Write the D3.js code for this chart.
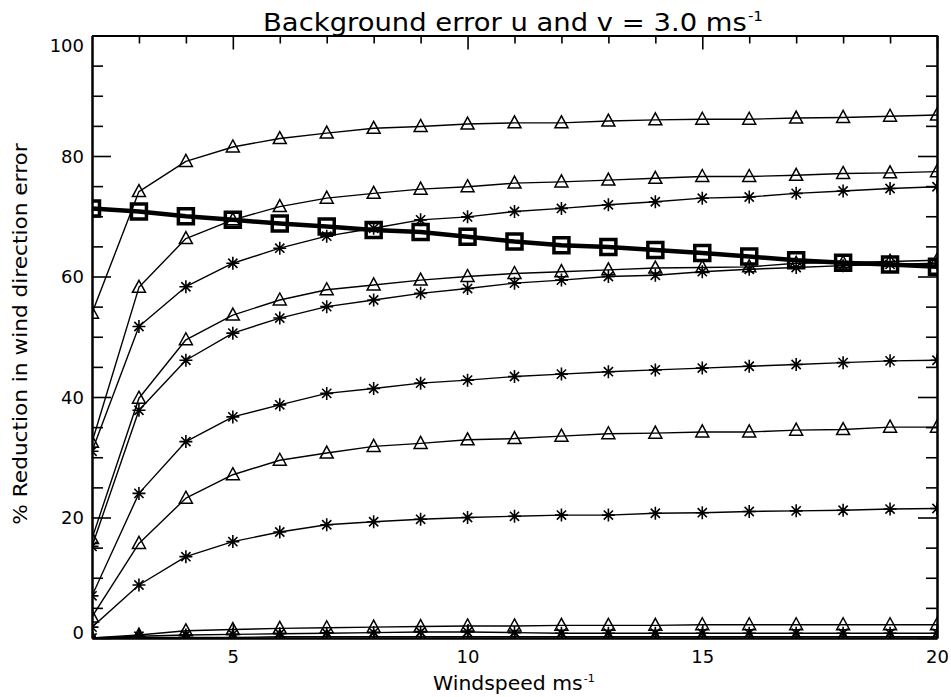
<!DOCTYPE html>
<html>
<head>
<meta charset="utf-8">
<script src="https://cdn.jsdelivr.net/npm/d3@7"></script>
<style>
  body { margin: 0; background: #fff; }
  svg { display: block; background: #fff; }
  text { font-family: "DejaVu Sans", sans-serif; fill: #000; }
</style>
</head>
<body>
<svg id="chart" width="951" height="697"></svg>
<script>
// Wind speed (m/s) at which each curve is evaluated
const windspeed = [2, 3, 4, 5, 6, 7, 8, 9, 10, 11, 12, 13, 14, 15, 16, 17, 18, 19, 20];

// % reduction in wind direction error, one array per curve
const triHigh   = [53.9, 74.1, 79.1, 81.5, 82.9, 83.8, 84.6, 84.9, 85.3, 85.5, 85.5, 85.8, 86.0, 86.1, 86.1, 86.3, 86.4, 86.6, 86.8];
const triUpper  = [32.5, 58.2, 66.3, 69.4, 71.6, 73.0, 73.8, 74.5, 74.9, 75.5, 75.7, 76.0, 76.3, 76.6, 76.6, 76.8, 77.1, 77.2, 77.4];
const astUpper  = [31.0, 51.7, 58.3, 62.2, 64.7, 66.7, 68.0, 69.4, 69.9, 70.8, 71.3, 71.9, 72.4, 73.0, 73.2, 73.8, 74.2, 74.6, 74.9];
const sqBold    = [71.3, 70.8, 70.0, 69.4, 68.8, 68.3, 67.7, 67.4, 66.6, 65.8, 65.2, 64.9, 64.4, 63.9, 63.3, 62.7, 62.3, 62.0, 61.6];
const triMid    = [16.5, 39.8, 49.5, 53.6, 56.1, 57.8, 58.6, 59.4, 60.0, 60.5, 60.8, 61.1, 61.4, 61.5, 61.6, 62.2, 62.3, 62.5, 62.7];
const astMid    = [15.2, 37.8, 46.1, 50.6, 53.1, 55.0, 56.1, 57.2, 58.0, 58.9, 59.4, 60.0, 60.2, 60.8, 61.2, 61.5, 61.8, 62.0, 62.2];
const astLower  = [7.0, 24.0, 32.6, 36.7, 38.7, 40.6, 41.4, 42.3, 42.8, 43.4, 43.8, 44.2, 44.5, 44.8, 45.1, 45.4, 45.7, 46.0, 46.1];
const triLower  = [3.5, 15.7, 23.2, 27.1, 29.5, 30.7, 31.8, 32.3, 32.9, 33.1, 33.5, 33.9, 34.0, 34.2, 34.2, 34.5, 34.6, 35.0, 35.0];
const astLow    = [1.8, 8.8, 13.5, 16.0, 17.6, 18.8, 19.3, 19.7, 20.0, 20.2, 20.4, 20.4, 20.7, 20.8, 21.0, 21.1, 21.2, 21.4, 21.5];
const triFloor  = [0.0, 0.5, 1.2, 1.4, 1.6, 1.7, 1.8, 1.9, 2.0, 2.0, 2.1, 2.1, 2.1, 2.2, 2.2, 2.2, 2.2, 2.2, 2.2];
const astFloor  = [0.0, 0.3, 0.5, 0.6, 0.7, 0.8, 0.9, 1.0, 1.0, 0.9, 0.8, 0.8, 0.8, 0.8, 0.8, 0.8, 0.8, 0.8, 0.8];
const triZero   = [0.0, 0.1, 0.1, 0.1, 0.2, 0.2, 0.2, 0.2, 0.2, 0.2, 0.2, 0.2, 0.2, 0.2, 0.2, 0.2, 0.2, 0.2, 0.2];

// Axis ticks
const xTickMajor = [5, 10, 15, 20];
const xTickMinor = [3, 4, 6, 7, 8, 9, 11, 12, 13, 14, 16, 17, 18, 19];
const yTickMajor = [0, 20, 40, 60, 80, 100];
const yTickMinor = [5, 10, 15, 25, 30, 35, 45, 50, 55, 65, 70, 75, 85, 90, 95];

// Texts
const titleText = "Background error u and v = 3.0 ms";
const xTitleText = "Windspeed ms";
const yTitleText = "% Reduction in wind direction error";
const unitExponent = "-1";

const series = [
  { values: triZero,  marker: "triangle" },
  { values: astFloor, marker: "asterisk" },
  { values: triFloor, marker: "triangle" },
  { values: astLow,   marker: "asterisk" },
  { values: triLower, marker: "triangle" },
  { values: astLower, marker: "asterisk" },
  { values: astMid,   marker: "asterisk" },
  { values: triMid,   marker: "triangle" },
  { values: astUpper, marker: "asterisk" },
  { values: triUpper, marker: "triangle" },
  { values: triHigh,  marker: "triangle" },
  { values: sqBold,   marker: "square", bold: true }
];

const svg = d3.select("#chart");
const plot = { left: 92, right: 937, top: 35.5, bottom: 638 };

const x = d3.scaleLinear().domain([2, 20]).range([plot.left, plot.right]);
const y = d3.scaleLinear().domain([0, 100]).range([plot.bottom, plot.top]);

svg.append("defs").append("clipPath").attr("id", "plotClip")
  .append("rect")
  .attr("x", plot.left).attr("y", plot.top)
  .attr("width", plot.right - plot.left).attr("height", plot.bottom - plot.top);

// ---- curves ----
const line = d3.line()
  .x((d, i) => x(windspeed[i]))
  .y(d => y(d));

const markerPaths = {
  triangle: "M0,-7L6.5,5L-6.5,5Z",
  asterisk: "M-6.5,0H6.5M0,-6.5V6.5M-4.6,-4.6L4.6,4.6M-4.6,4.6L4.6,-4.6",
  square: "M-7.5,-7.5H7.5V7.5H-7.5Z"
};

const dataLayer = svg.append("g").attr("clip-path", "url(#plotClip)");

series.forEach(s => {
  dataLayer.append("path")
    .datum(s.values)
    .attr("d", line)
    .attr("fill", "none")
    .attr("stroke", "#000")
    .attr("stroke-width", s.bold ? 4.5 : 1.4)
    .attr("stroke-linejoin", "round");
});

series.forEach(s => {
  dataLayer.append("g")
    .selectAll("path")
    .data(s.values)
    .join("path")
    .attr("transform", (d, i) => `translate(${x(windspeed[i])},${y(d)})`)
    .attr("d", markerPaths[s.marker])
    .attr("fill", "none")
    .attr("stroke", "#000")
    .attr("stroke-width", s.bold ? 3.5 : (s.marker === "asterisk" ? 1.6 : 1.5));
});

// ---- axes (ticks point inward on all four sides) ----
function styleAxis(g) {
  g.select(".domain").attr("stroke", "#000").attr("stroke-width", 2);
  g.selectAll(".tick line").attr("stroke", "#000").attr("stroke-width", 1.6);
  g.selectAll(".tick text")
    .style("font-family", '"DejaVu Sans", sans-serif')
    .style("font-size", "18px")
    .attr("fill", "#000");
}

// bottom
svg.append("g").attr("transform", `translate(0,${plot.bottom})`)
  .call(d3.axisBottom(x).tickValues(xTickMinor).tickSizeInner(-8).tickSizeOuter(0).tickFormat(""))
  .call(styleAxis);
svg.append("g").attr("transform", `translate(0,${plot.bottom})`)
  .call(d3.axisBottom(x).tickValues(xTickMajor).tickSizeInner(-14).tickSizeOuter(0).tickPadding(12).tickFormat(d3.format("d")))
  .call(styleAxis);

// top
svg.append("g").attr("transform", `translate(0,${plot.top})`)
  .call(d3.axisTop(x).tickValues(xTickMinor).tickSizeInner(-8).tickSizeOuter(0).tickFormat(""))
  .call(styleAxis);
svg.append("g").attr("transform", `translate(0,${plot.top})`)
  .call(d3.axisTop(x).tickValues(xTickMajor).tickSizeInner(-14).tickSizeOuter(0).tickFormat(""))
  .call(styleAxis);

// left
svg.append("g").attr("transform", `translate(${plot.left},0)`)
  .call(d3.axisLeft(y).tickValues(yTickMinor).tickSizeInner(-11).tickSizeOuter(0).tickFormat(""))
  .call(styleAxis);
const leftMajor = svg.append("g").attr("transform", `translate(${plot.left},0)`)
  .call(d3.axisLeft(y).tickValues(yTickMajor).tickSizeInner(-19).tickSizeOuter(0).tickPadding(8).tickFormat(d3.format("d")))
  .call(styleAxis);
// keep the end labels inside the axis span
leftMajor.selectAll(".tick text")
  .attr("dy", d => d === 100 ? "0.88em" : d === 0 ? "0.05em" : "0.36em");

// right
svg.append("g").attr("transform", `translate(${plot.right},0)`)
  .call(d3.axisRight(y).tickValues(yTickMinor).tickSizeInner(-11).tickSizeOuter(0).tickFormat(""))
  .call(styleAxis);
svg.append("g").attr("transform", `translate(${plot.right},0)`)
  .call(d3.axisRight(y).tickValues(yTickMajor).tickSizeInner(-19).tickSizeOuter(0).tickFormat(""))
  .call(styleAxis);

// ---- titles ----
// Builds a text with a unit exponent, then stretches it horizontally to the wanted width.
function stretchedLabel(parent, text, sup, size, width, transform) {
  const g = parent.append("g").attr("transform", transform);
  const inner = g.append("g");
  const t = inner.append("text")
    .attr("text-anchor", "middle")
    .style("font-size", size + "px");
  t.append("tspan").text(text);
  if (sup) {
    t.append("tspan")
      .attr("dy", -size * 0.42)
      .attr("dx", 1)
      .style("font-size", (size * 0.55) + "px")
      .text(sup);
  }
  const w = t.node().getBBox().width;
  inner.attr("transform", `scale(${width / w},1)`);
  return g;
}

stretchedLabel(svg, titleText, unitExponent, 25, 500, `translate(513,31)`);
stretchedLabel(svg, xTitleText, unitExponent, 19, 162, `translate(514,690)`);
stretchedLabel(svg, yTitleText, null, 19, 382, `translate(27,334) rotate(-90)`);
</script>
</body>
</html>
